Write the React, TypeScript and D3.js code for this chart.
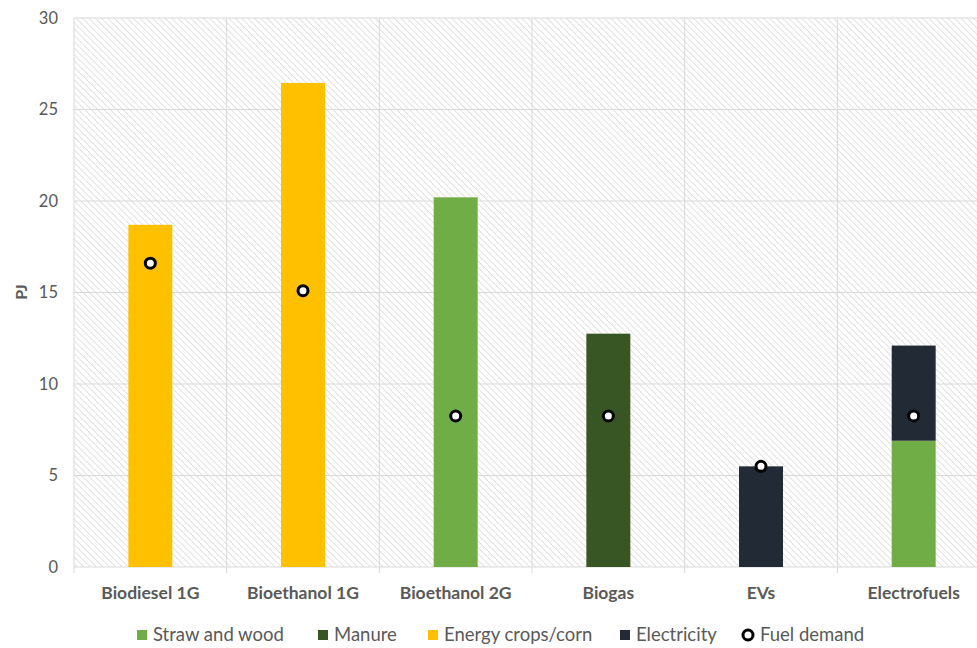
import React from "react";
import * as d3 from "d3";

const categories = ["Biodiesel 1G", "Bioethanol 1G", "Bioethanol 2G", "Biogas", "EVs", "Electrofuels"];
const seriesNames = ["Straw and wood", "Manure", "Energy crops/corn", "Electricity"];
const seriesColors = ["#70AD47", "#375623", "#FFC000", "#222A35"];
const strawWood = [0, 0, 20.2, 0, 0, 6.9];
const manure = [0, 0, 0, 12.75, 0, 0];
const energyCrops = [18.7, 26.45, 0, 0, 0, 0];
const electricity = [0, 0, 0, 0, 5.5, 5.2];
const fuelDemand = [16.6, 15.1, 8.25, 8.25, 5.5, 8.25];
const yTicks = [0, 5, 10, 15, 20, 25, 30];
const yLabel = "PJ";
const legendLabelFuel = "Fuel demand";

const W = 977;
const H = 648;
const left = 74;
const top = 18;
const bottom = 567;
const step = 152.67;
const right = left + step * categories.length;
const FONT = "Lato, 'Open Sans', sans-serif";
const TXT = "#595959";

export default function App() {
  const x = d3.scaleBand<string>().domain(categories).range([left, right]).paddingInner(0.712).paddingOuter(0.356);
  const y = d3.scaleLinear().domain([0, 30]).range([bottom, top]);
  const rows = categories.map((c, i) => ({ cat: c, s0: strawWood[i], s1: manure[i], s2: energyCrops[i], s3: electricity[i] }));
  const stack = d3.stack<any>().keys(["s0", "s1", "s2", "s3"])(rows);

  const legendItems = [
    { x: 137, label: seriesNames[0], color: seriesColors[0] },
    { x: 318, label: seriesNames[1], color: seriesColors[1] },
    { x: 428, label: seriesNames[2], color: seriesColors[2] },
    { x: 620, label: seriesNames[3], color: seriesColors[3] },
  ];

  return (
    <svg width={W} height={H} style={{ position: "absolute", left: 0, top: 0, background: "#fff" }} fontFamily={FONT}>
      <defs>
        <pattern id="hatch" width="4.5" height="4.5" patternUnits="userSpaceOnUse" patternTransform="rotate(-45)">
          <rect width="4.5" height="4.5" fill="#ffffff" />
          <line x1="0" y1="0" x2="0" y2="4.5" stroke="#d2d2d2" strokeWidth="1.3" />
        </pattern>
        <clipPath id="clip">
          <rect x={0} y={0} width={W} height={H} />
        </clipPath>
      </defs>
      <g clipPath="url(#clip)">
        <rect x={left} y={top} width={right - left} height={bottom - top} fill="url(#hatch)" />
        {yTicks.map((t) => (
          <line key={"g" + t} x1={left} x2={right} y1={y(t)} y2={y(t)} stroke="#d9d9d9" strokeWidth={1} />
        ))}
        {d3.range(categories.length + 1).map((i) => (
          <line key={"v" + i} x1={left + i * step} x2={left + i * step} y1={top} y2={bottom + 6} stroke="#d9d9d9" strokeWidth={1} />
        ))}
        {stack.map((layer, li) =>
          layer.map((d, i) =>
            d[1] - d[0] > 0 ? (
              <rect key={li + "-" + i} x={x(categories[i])} width={x.bandwidth()} y={y(d[1])} height={y(d[0]) - y(d[1])} fill={seriesColors[li]} />
            ) : null
          )
        )}
        {fuelDemand.map((v, i) => (
          <circle key={"m" + i} cx={(x(categories[i]) as number) + x.bandwidth() / 2} cy={y(v)} r={5} fill="#fff" stroke="#000" strokeWidth={3} />
        ))}
      </g>
      {yTicks.map((t) => (
        <text key={"t" + t} x={58} y={y(t)} dy="0.35em" textAnchor="end" fontSize={16.5} fill={TXT}>
          {t}
        </text>
      ))}
      <text transform={`translate(${21},${292}) rotate(-90)`} textAnchor="middle" dy="0.35em" fontSize={16} fontWeight="bold" fill={TXT}>
        {yLabel}
      </text>
      {categories.map((c) => (
        <text key={c} x={(x(c) as number) + x.bandwidth() / 2} y={593} dy="0.35em" textAnchor="middle" fontSize={17.5} fontWeight="bold" fill={TXT}>
          {c}
        </text>
      ))}
      {legendItems.map((it) => (
        <g key={it.label}>
          <rect x={it.x} y={630} width={10} height={10} fill={it.color} />
          <text x={it.x + 16} y={635} dy="0.35em" fontSize={18.5} fill={TXT}>
            {it.label}
          </text>
        </g>
      ))}
      <circle cx={748} cy={635} r={5} fill="#fff" stroke="#000" strokeWidth={3} />
      <text x={760} y={635} dy="0.35em" fontSize={18.5} fill={TXT}>
        {legendLabelFuel}
      </text>
    </svg>
  );
}
